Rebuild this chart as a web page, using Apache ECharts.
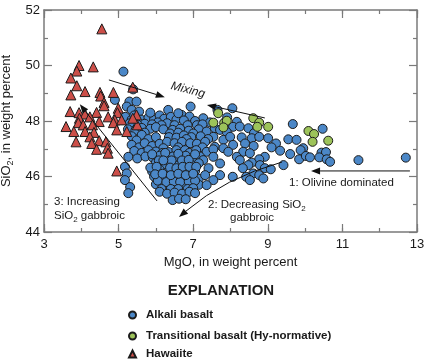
<!DOCTYPE html>
<html><head><meta charset="utf-8">
<script src="https://cdn.jsdelivr.net/npm/echarts@6/dist/echarts.min.js"></script>
<style>html,body{margin:0;padding:0;background:#fff}#c{width:434px;height:364px}</style>
</head><body><div id="c"></div>
<script>
// ---------- data ----------
const xTickLabels = [3, 5, 7, 9, 11, 13];
const seriesNames = ['Alkali basalt', 'Transitional basalt (Hy-normative)', 'Hawaiite'];

const alkali = [
[5.13,49.78],[5.39,49.14],[4.90,48.76],[5.29,48.70],[5.48,48.70],[5.22,48.52],[5.35,48.40],[5.55,48.34],[6.33,48.40],[6.93,48.52],
[6.69,48.22],[6.90,48.16],[7.27,48.10],[7.65,48.40],[8.05,48.46],[8.17,47.97],[7.91,48.13],[7.94,47.77],[9.67,47.89],[10.47,47.72],
[5.18,48.15],[5.35,48.05],[5.42,48.20],[5.60,48.05],[5.80,48.12],[5.95,48.05],[6.10,48.20],[6.22,48.08],[6.40,48.15],[6.55,48.05],
[6.05,47.95],[6.30,47.92],[6.75,48.02],[7.05,48.00],[7.45,47.95],[7.10,47.85],[6.85,47.85],[5.70,47.90],[5.50,47.88],[5.30,47.92],
[6.50,47.85],[5.90,47.88],[6.15,47.85],[7.25,47.88],[6.60,48.28],[5.85,48.30],
[5.25,47.70],[5.45,47.65],[5.62,47.75],[5.85,47.72],[6.00,47.78],[6.20,47.70],[6.45,47.68],[6.65,47.72],[6.88,47.65],[7.15,47.70],
[7.36,47.62],[7.58,47.74],[7.72,47.68],[8.07,47.79],[8.25,47.80],[8.48,47.74],[7.90,47.60],[5.70,47.58],[6.38,47.55],[6.60,47.58],
[7.00,47.55],[8.63,47.56],
[5.35,47.45],[5.62,47.50],[6.35,47.42],[6.55,47.40],[6.75,47.48],[6.95,47.42],[7.20,47.45],[7.54,47.43],[7.81,47.32],[7.99,47.43],
[8.30,47.41],[8.57,47.38],[8.77,47.43],[9.01,47.38],[9.55,47.34],[9.77,47.32],[5.48,47.30],[5.80,47.35],[6.00,47.42],[6.82,47.35],
[7.40,47.35],
[5.35,47.14],[5.55,47.05],[5.70,47.20],[5.90,47.10],[6.10,47.18],[6.30,47.25],[6.50,47.20],[6.70,47.25],[6.92,47.20],[7.10,47.18],
[7.32,47.25],[7.58,47.07],[7.81,47.02],[8.07,47.14],[8.39,47.19],[8.62,47.10],[9.22,47.19],[9.10,47.05],[9.95,47.02],[9.88,46.95],
[6.20,47.02],[6.60,47.05],[7.25,47.05],
[5.42,46.92],[5.62,46.85],[5.80,46.95],[6.00,46.90],[6.18,46.85],[6.35,46.88],[6.55,46.95],[6.78,46.95],[6.90,46.85],[7.08,46.95],
[7.36,46.89],[7.94,46.89],[8.34,46.89],[8.52,46.84],[9.33,46.93],[9.60,46.81],[10.44,46.86],[10.56,46.88],[7.54,46.98],
[5.26,46.71],[5.50,46.65],[5.72,46.72],[5.92,46.68],[6.10,46.75],[6.28,46.65],[6.45,46.72],[6.62,46.68],[6.80,46.75],[7.00,46.65],
[7.18,46.72],[7.54,46.71],[8.17,46.71],[8.92,46.71],[9.84,46.62],[10.02,46.74],[10.13,46.69],[10.38,46.69],[10.58,46.62],[10.67,46.53],
[11.43,46.59],[12.70,46.68],[8.77,46.62],[8.25,46.59],[7.27,46.59],
[6.00,46.50],[6.20,46.40],[6.40,46.48],[6.58,46.40],[6.78,46.50],[6.95,46.42],[7.15,46.48],
[7.72,46.47],[8.57,46.50],[8.48,46.41],[8.79,46.41],[9.42,46.41],[5.17,46.35],
[5.90,46.18],[6.10,46.25],[6.30,46.15],[6.48,46.22],[6.68,46.18],[6.85,46.25],[7.05,46.20],[7.41,46.30],
[8.33,46.30],[8.92,46.30],[9.08,46.26],[8.61,46.11],[5.22,46.11],
[8.42,45.99],[8.77,46.05],[8.06,45.99],[8.88,45.93],[8.52,45.87],[5.17,45.87],[5.95,46.00],[6.15,45.95],
[6.35,45.90],[6.55,45.98],[6.75,45.90],[6.95,45.98],[7.15,45.92],[7.32,46.05],[7.72,46.05],[7.54,45.87],
[5.31,45.62],[5.26,45.40],[6.00,45.72],[6.20,45.65],[6.38,45.72],[6.58,45.65],[6.78,45.72],[6.98,45.65],[7.15,45.70],
[7.36,45.69],[6.05,45.85],[6.28,45.80],[6.48,45.82],[6.65,45.80],[6.88,45.82],[7.05,45.85],[6.15,45.55],[6.40,45.55],
[6.60,45.55],[6.85,45.55],[7.00,45.58],
[6.10,45.45],[6.30,45.38],[6.50,45.42],[6.70,45.38],[6.90,45.45],[7.05,45.40],[6.45,45.15],[6.62,45.20],[6.80,45.18],
[5.90,46.80],[6.08,46.58],[6.25,46.85],[6.42,46.58],[6.60,46.82],[6.70,46.58],[6.88,46.60],[7.05,46.80],[5.85,46.32],[6.02,46.35],
[6.20,46.58],[6.38,46.32],[6.55,46.30],[6.72,46.35],[6.90,46.35],[7.08,46.35],[5.98,46.08],[6.18,46.10],[6.40,46.05],[6.60,46.10],
[6.80,46.05],[7.00,46.10]
];

const transitional = [
[7.67,48.28],[7.54,47.94],[7.83,47.94],[7.90,48.01],[7.81,47.77],[8.61,48.10],[8.77,47.94],[8.72,47.79],[9.01,47.79],
[10.09,47.64],[10.24,47.53],[10.20,47.25],[10.62,47.29]
];

const hawaiite = [
[4.55,51.32],[3.94,50.00],[3.88,49.80],[4.32,49.95],[3.72,49.55],[3.88,49.27],[4.10,49.06],[3.72,48.94],[4.50,49.03],[4.52,48.90],
[4.86,49.03],[4.61,48.67],[4.61,48.55],[5.38,49.22],[4.99,48.46],[3.70,48.34],[3.94,48.30],[4.10,48.25],[4.41,48.31],[4.23,48.15],
[3.95,48.10],[4.72,48.15],[4.97,48.30],[4.90,48.04],[5.08,48.04],[4.48,47.98],[3.92,47.94],[4.86,47.94],[4.05,47.86],[4.30,47.86],
[3.59,47.80],[3.80,47.62],[4.10,47.62],[4.34,47.59],[4.95,47.68],[5.22,47.62],[5.48,48.22],[5.50,47.86],[5.38,48.10],[3.86,47.25],
[4.23,47.43],[4.48,47.29],[4.28,47.19],[4.66,47.25],[4.41,46.98],[4.70,47.02],[4.72,46.84],[4.95,46.20]
];

// annotation arrows (in MgO / SiO2 units)
const arrowMixingA = [[4.74,49.48],[6.24,48.86]];
const arrowMixingB = [[8.92,48.11],[7.37,48.58]];
const arrowOlivine = [[12.81,46.20],[10.16,46.20]];
const arrowIncreasing = [[6.03,45.12],[3.96,48.60]];
const curveDecreasing = [[9.38,46.52],[7.85,45.95],[6.62,44.54]];

// ---------- chart ----------
const FONT = '"Liberation Sans", Arial, Helvetica, sans-serif';
const TXT = '#1a1a1a';
const frameLine = {color:'#7a7a7a', width:1.5};
const tickLine = {color:'#7a7a7a', width:1.2};

function xAx(extra){
  return Object.assign({type:'value', min:3, max:13, interval:1, gridIndex:0,
    splitLine:{show:false}, axisLine:{show:false,onZero:false}, axisTick:{show:false},
    axisLabel:{show:false}}, extra);
}
function yAx(extra){
  return Object.assign({type:'value', min:44, max:52, interval:2, gridIndex:0,
    splitLine:{show:false}, axisLine:{show:false,onZero:false}, axisTick:{show:false},
    minorTick:{show:false}, axisLabel:{show:false}}, extra);
}

const chart = echarts.init(document.getElementById('c'), null, {renderer:'canvas'});

const legendText = {fontSize:11.5, fontWeight:'bold', fontFamily:FONT, color:TXT, padding:[0,0,0,5], lineHeight:14};
const option = {
  animation:false,
  backgroundColor:'#fff',
  grid:{left:44, top:10, width:373, height:222, containLabel:false, outerBoundsMode:'none'},
  xAxis:[
    xAx({position:'bottom',
      axisLine:{show:true,onZero:false,lineStyle:frameLine},
      axisTick:{show:true,inside:true,length:4,lineStyle:tickLine},
      axisLabel:{show:true, margin:6, fontSize:13, fontFamily:FONT, color:TXT,
        showMinLabel:true, showMaxLabel:true, customValues:xTickLabels,
        formatter:v => xTickLabels.includes(v) ? String(v) : ''},
      name:'MgO, in weight percent', nameLocation:'middle', nameGap:24,
      nameTextStyle:{fontSize:13, fontFamily:FONT, color:TXT, verticalAlign:'top'}}),
    xAx({position:'bottom', axisTick:{show:true,inside:true,length:8,customValues:xTickLabels,lineStyle:tickLine}}),
    xAx({position:'top', axisLine:{show:true,onZero:false,lineStyle:frameLine},
      axisTick:{show:true,inside:true,length:4,lineStyle:tickLine}}),
    xAx({position:'top', axisTick:{show:true,inside:true,length:8,customValues:xTickLabels,lineStyle:tickLine}})
  ],
  yAxis:[
    yAx({position:'left',
      axisLine:{show:true,onZero:false,lineStyle:frameLine},
      axisTick:{show:true,inside:true,length:8,lineStyle:tickLine},
      minorTick:{show:true,splitNumber:2,length:4,lineStyle:tickLine},
      axisLabel:{show:true, margin:4, fontSize:13, fontFamily:FONT, color:TXT, showMinLabel:true, showMaxLabel:true},
      name:'SiO{s|2}, in weight percent', nameLocation:'middle', nameGap:29,
      nameTextStyle:{fontSize:13, fontFamily:FONT, color:TXT, lineHeight:17,
        rich:{s:{fontSize:9, fontFamily:FONT, color:TXT, verticalAlign:'bottom'}}}}),
    yAx({position:'right',
      axisLine:{show:true,onZero:false,lineStyle:frameLine},
      axisTick:{show:true,inside:true,length:8,lineStyle:tickLine},
      minorTick:{show:true,splitNumber:2,length:4,lineStyle:tickLine}})
  ],
  legend:[
    {data:[seriesNames[0]], left:128, top:308, padding:0, itemWidth:7, itemHeight:7, selectedMode:false, textStyle:legendText},
    {data:[seriesNames[1]], left:128, top:329, padding:0, itemWidth:7, itemHeight:7, selectedMode:false, textStyle:legendText},
    {data:[seriesNames[2]], left:128, top:347, padding:0, itemWidth:7, itemHeight:7, selectedMode:false, textStyle:legendText}
  ],
  series:[
    {name:seriesNames[0], type:'scatter', data:alkali, symbol:'circle', symbolSize:9, z:2,
      itemStyle:{color:'#4b87c7', borderColor:'#1c1c1c', borderWidth:1, opacity:1}, emphasis:{disabled:true}},
    {name:seriesNames[1], type:'scatter', data:transitional, symbol:'circle', symbolSize:9, z:3,
      itemStyle:{color:'#9dc35a', borderColor:'#1c1c1c', borderWidth:1, opacity:1}, emphasis:{disabled:true}},
    {name:seriesNames[2], type:'scatter', data:hawaiite, symbol:'triangle', symbolSize:[10,10], z:4,
      itemStyle:{color:'#cc4e48', borderColor:'#1c1c1c', borderWidth:1, opacity:1}, emphasis:{disabled:true}}
  ]
};
chart.setOption(option);

// ---------- annotations ----------
function px(p){ return chart.convertToPixel({gridIndex:0}, p); }
function arrowHead(tip, from, len, half){
  const dx = tip[0]-from[0], dy = tip[1]-from[1];
  const d = Math.hypot(dx,dy) || 1;
  const ux = dx/d, uy = dy/d;
  const bx = tip[0]-ux*len, by = tip[1]-uy*len;
  return {head:[[tip[0],tip[1]],[bx-uy*half,by+ux*half],[bx+uy*half,by-ux*half]], base:[bx,by]};
}
const INK = '#111';
const g = [];
function straightArrow(path){
  const a = px(path[0]), b = px(path[1]);
  const h = arrowHead(b, a, 9, 3.5);
  g.push({type:'line', shape:{x1:a[0],y1:a[1],x2:h.base[0],y2:h.base[1]}, style:{stroke:INK,lineWidth:1}, z:10});
  g.push({type:'polygon', shape:{points:h.head}, style:{fill:INK}, z:10});
}
[arrowMixingA, arrowMixingB, arrowOlivine, arrowIncreasing].forEach(straightArrow);
(function(){
  const s = px(curveDecreasing[0]), c = px(curveDecreasing[1]), e = px(curveDecreasing[2]);
  const h = arrowHead(e, c, 9, 3.5);
  g.push({type:'bezierCurve', shape:{x1:s[0],y1:s[1],cpx1:c[0],cpy1:c[1],x2:h.base[0],y2:h.base[1]}, style:{stroke:INK,lineWidth:1,fill:null}, z:10});
  g.push({type:'polygon', shape:{points:h.head}, style:{fill:INK}, z:10});
})();
function txt(x, y, text, opts){
  g.push(Object.assign({type:'text', x:x, y:y, z:11,
    style:Object.assign({text:text, fill:TXT, font:'11.5px '+FONT, align:'left', verticalAlign:'middle',
      rich:{s:{fontSize:8, fontFamily:FONT, fill:TXT, verticalAlign:'bottom'}}}, opts && opts.style)},
    opts && opts.el));
}
txt(188, 90, 'Mixing', {style:{font:'italic 12px '+FONT, align:'center'}, el:{rotation:-0.25}});
txt(289, 183, '1: Olivine dominated');
txt(208, 204.5, '2: Decreasing SiO{s|2}', {style:{lineHeight:16}});
txt(230, 218, 'gabbroic');
txt(54, 202, '3: Increasing');
txt(54, 215.5, 'SiO{s|2} gabbroic', {style:{lineHeight:16}});
txt(221, 291, 'EXPLANATION', {style:{font:'bold 15px '+FONT, align:'center'}});
chart.setOption({graphic:g});
</script>
</body></html>
